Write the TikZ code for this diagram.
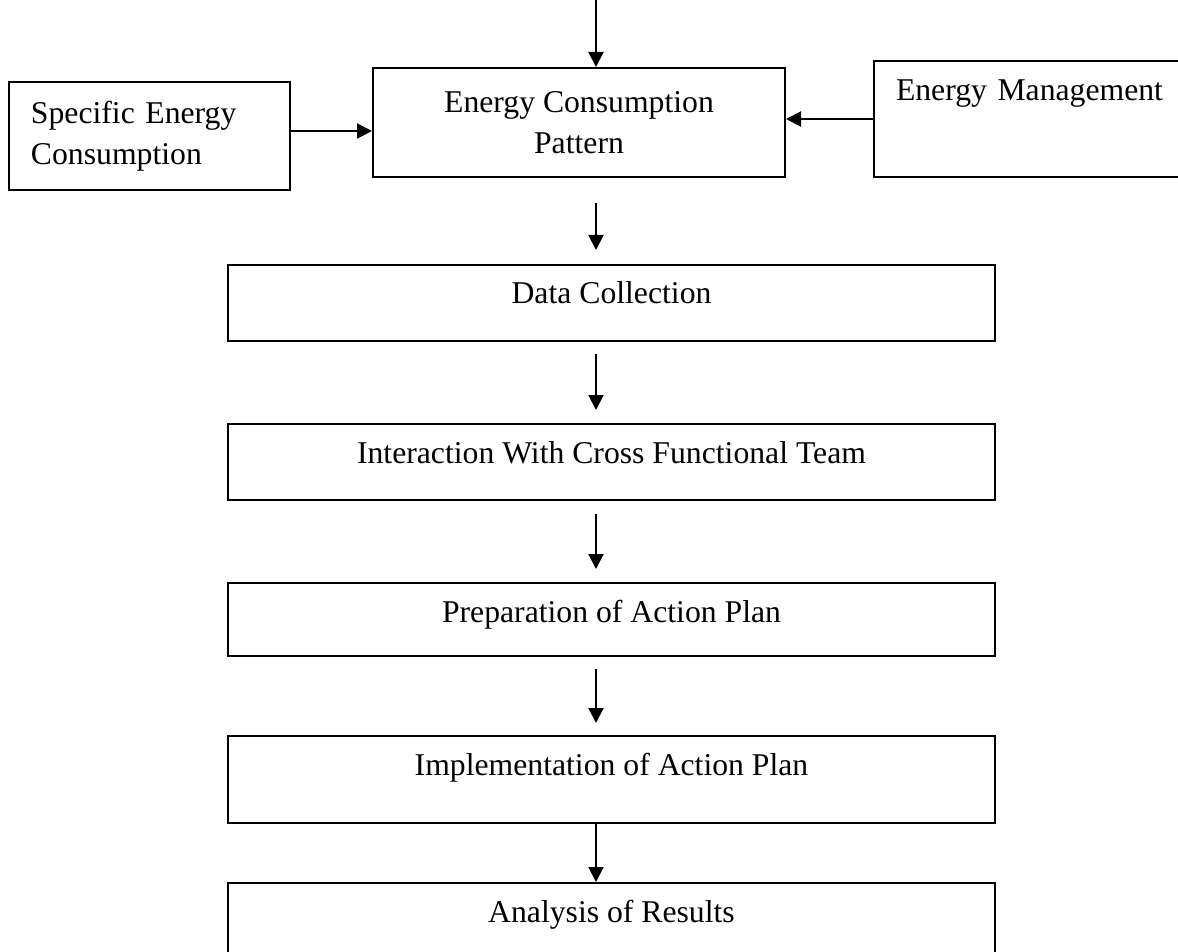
\documentclass[tikz,border=0pt]{standalone}
\usepackage{fontspec}
\setmainfont{Liberation Serif}
\usetikzlibrary{arrows.meta,positioning}

\begin{document}
\begin{tikzpicture}[x=0.5pt, y=-0.5pt,
    stage/.style={draw, line width=1pt, inner sep=0pt, minimum width=383.5pt, text height=19.5pt, anchor=north, font=\fontsize{15.85pt}{20.25pt}\selectfont},
    side/.style={draw, line width=1pt, inner xsep=11pt, inner ysep=0pt, align=left, anchor=north west, font=\fontsize{15.85pt}{20.5pt}\selectfont},
    arr/.style={-{Triangle[length=7.5pt, width=7.5pt]}, line width=1pt}
]
\useasboundingbox (0,0) rectangle (1178,952);
\coordinate (col) at (596,0);

% top row
\node[draw, line width=1pt, inner sep=0pt, align=center, minimum width=206pt, minimum height=54.5pt, anchor=north, font=\fontsize{15.85pt}{20.25pt}\selectfont] (ecp) at (579,67) {Energy Consumption\\Pattern};
\node[side, text width=118.5pt, minimum height=54pt] (sec) at (8,81) {Specific Energy\\Consumption};
\node[side, text width=143pt, text height=20pt, text depth=38pt] (em) at (873,60) {Energy Management};

% main column
\node[stage, text depth=18.5pt] (dc) at (611.5,264) {Data Collection};
\node[stage, text depth=18.5pt] (cft) at (611.5,423) {Interaction With Cross Functional Team};
\node[stage, text depth=17pt] (prep) at (611.5,582) {Preparation of Action Plan};
\node[stage, text depth=24pt] (impl) at (611.5,735) {Implementation of Action Plan};
\node[stage, text depth=25.5pt] (res) at (611.5,882) {Analysis of Results};

\draw[arr] (col) -- (ecp.north -| col);
\draw[arr] ([yshift=2.5pt]sec.east) -- ([yshift=2.5pt]sec.east -| ecp.west);
\draw[arr] (em.west) -- (em.west -| ecp.east);
\draw[arr, shorten <=12.5pt, shorten >=7pt] (ecp.south -| col) -- (dc.north -| col);
\draw[arr, shorten <=6pt, shorten >=6.5pt] (dc.south -| col) -- (cft.north -| col);
\draw[arr, shorten <=6.5pt, shorten >=6.5pt] (cft.south -| col) -- (prep.north -| col);
\draw[arr, shorten <=6pt, shorten >=6pt] (prep.south -| col) -- (impl.north -| col);
\draw[arr] (impl.south -| col) -- (res.north -| col);
\end{tikzpicture}
\end{document}
